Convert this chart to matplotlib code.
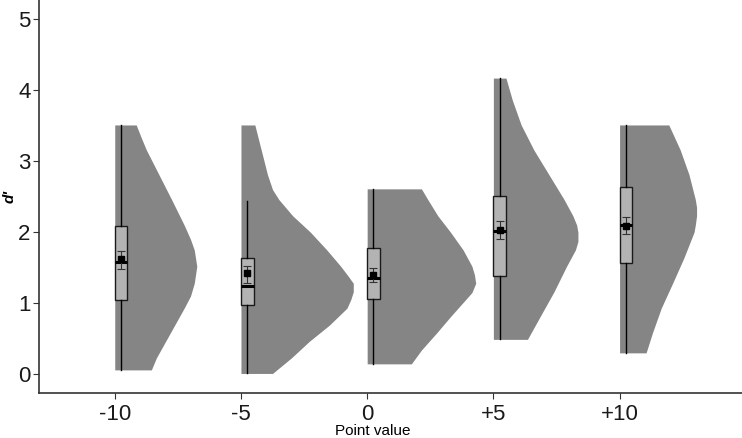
import matplotlib
matplotlib.use("Agg")
import matplotlib.pyplot as plt

plt.rcParams["font.family"] = ["Liberation Sans Narrow", "Liberation Sans", "DejaVu Sans"]

# categories
groups = ["-10", "-5", "0", "+5", "+10"]

# box plot stats (d')
box_min = [0.06, 0.01, 0.145, 0.49, 0.295]
box_q1 = [1.04, 0.98, 1.06, 1.38, 1.57]
box_med = [1.58, 1.24, 1.35, 2.01, 2.10]
box_q3 = [2.08, 1.63, 1.78, 2.51, 2.64]
box_max = [3.51, 2.44, 2.61, 4.17, 3.51]

# mean and error bars
means = [1.62, 1.43, 1.40, 2.03, 2.08]
err_lo = [1.48, 1.29, 1.30, 1.91, 1.97]
err_hi = [1.74, 1.53, 1.50, 2.16, 2.21]

# half-violin profiles: d' values and density half-widths
viol_y_m10 = [3.51, 3.33, 3.16, 2.81, 2.46, 2.10, 1.90, 1.75, 1.52, 1.28, 1.10, 0.93, 0.58, 0.23, 0.06]
viol_w_m10 = [0.17, 0.21, 0.25, 0.35, 0.45, 0.55, 0.60, 0.63, 0.65, 0.63, 0.60, 0.55, 0.44, 0.33, 0.29]
viol_y_m5 = [3.51, 3.16, 2.81, 2.60, 2.46, 2.23, 2.00, 1.75, 1.52, 1.38, 1.28, 1.16, 1.05, 0.93, 0.69, 0.46, 0.23, 0.01]
viol_w_m5 = [0.11, 0.16, 0.21, 0.25, 0.30, 0.41, 0.55, 0.68, 0.79, 0.85, 0.89, 0.89, 0.87, 0.84, 0.70, 0.54, 0.40, 0.25]
viol_y_0 = [2.61, 2.46, 2.23, 2.00, 1.75, 1.52, 1.40, 1.28, 1.15, 1.05, 0.81, 0.58, 0.34, 0.145]
viol_w_0 = [0.43, 0.48, 0.56, 0.66, 0.76, 0.83, 0.85, 0.86, 0.83, 0.78, 0.66, 0.55, 0.43, 0.35]
viol_y_p5 = [4.17, 3.86, 3.51, 3.16, 2.81, 2.46, 2.23, 2.10, 2.00, 1.87, 1.75, 1.52, 1.16, 0.81, 0.49]
viol_w_p5 = [0.10, 0.15, 0.22, 0.32, 0.44, 0.56, 0.63, 0.66, 0.67, 0.67, 0.65, 0.58, 0.48, 0.37, 0.27]
viol_y_p10 = [3.51, 3.16, 2.81, 2.46, 2.35, 2.23, 2.10, 2.00, 1.64, 1.28, 0.93, 0.58, 0.30]
viol_w_p10 = [0.39, 0.48, 0.55, 0.60, 0.61, 0.61, 0.60, 0.59, 0.51, 0.42, 0.33, 0.26, 0.21]

viol_y = [viol_y_m10, viol_y_m5, viol_y_0, viol_y_p5, viol_y_p10]
viol_w = [viol_w_m10, viol_w_m5, viol_w_0, viol_w_p5, viol_w_p10]

fig = plt.figure(figsize=(7.42, 4.38), dpi=100)
ax = fig.add_axes([0.0526, 0.102, 0.9474, 0.898])

# 1) half violins
for i in range(len(groups)):
    xs = [i + w for w in viol_w[i]]
    ax.fill_betweenx(viol_y[i], i, xs, color="#858585", lw=0, zorder=1)

# 2) box plots
stats = []
for i in range(len(groups)):
    stats.append({"whislo": box_min[i], "q1": box_q1[i], "med": box_med[i],
                  "q3": box_q3[i], "whishi": box_max[i]})
pos = [i + 0.05 for i in range(len(groups))]
ax.bxp(stats, positions=pos, widths=0.1, showfliers=False, showcaps=False,
       patch_artist=True, manage_ticks=False,
       boxprops=dict(facecolor="#b3b3b3", edgecolor="#1a1a1a", lw=1),
       medianprops=dict(color="black", lw=2.2),
       whiskerprops=dict(color="black", lw=1), zorder=2)

# 3) means with error bars
yerr = [[m - lo for m, lo in zip(means, err_lo)], [hi - m for m, hi in zip(means, err_hi)]]
ax.errorbar(pos, means, yerr=yerr, fmt="s", ms=5, color="black",
            ecolor="#333333", elinewidth=0.8, capsize=3, capthick=0.8, zorder=3)

ax.set_xlim(-0.6, 4.97)
ax.set_ylim(-0.27, 5.27)
ax.set_xticks(range(len(groups)))
ax.set_xticklabels(groups)
ax.set_yticks([0, 1, 2, 3, 4, 5])
ax.tick_params(labelsize=16, length=4, color="#333333", labelcolor="#1a1a1a")
ax.tick_params(axis="y", pad=2)
for s in ["top", "right"]:
    ax.spines[s].set_visible(False)
for s in ["left", "bottom"]:
    ax.spines[s].set_color("#333333")
    ax.spines[s].set_linewidth(1.2)

ax.set_ylabel("d'", fontsize=11, style="italic", fontweight="bold")
ax.yaxis.set_label_coords(-0.032, 0.5)
ax.set_xlabel("Point value", fontsize=11)
ax.xaxis.set_label_coords(0.475, -0.078)

fig.savefig("out.png", dpi=100)
